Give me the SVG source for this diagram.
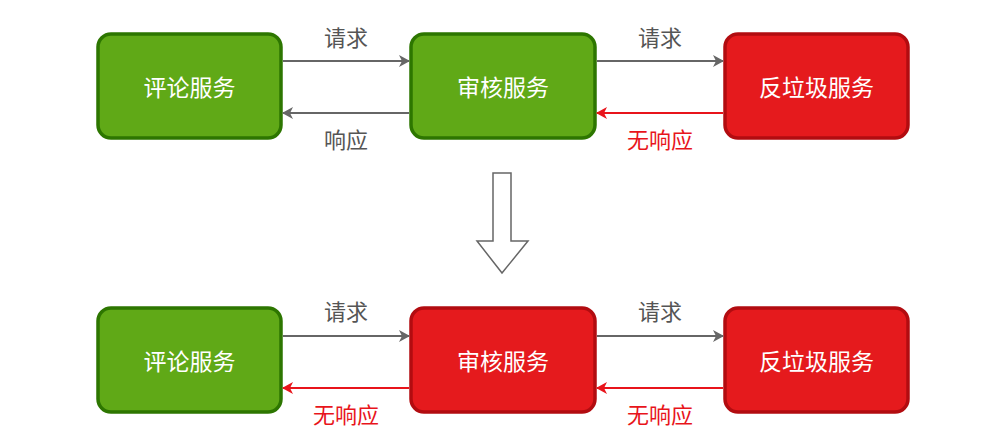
<svg xmlns="http://www.w3.org/2000/svg" width="983" height="441" viewBox="0 0 983 441">
<style>
.g{fill:#60a917;stroke:#2d7600;stroke-width:3.5}
.r{fill:#e51a1d;stroke:#b20c10;stroke-width:3.5}
.t{font-family:"Noto Sans CJK SC",sans-serif;font-size:23px;fill:#fff;text-anchor:middle;dominant-baseline:central}
.l{font-family:"Noto Sans CJK SC",sans-serif;font-size:22px;fill:#555;text-anchor:middle;dominant-baseline:central}
.lr{fill:#e8141b}
.c{stroke:#666;stroke-width:2;fill:none}
.cr{stroke:#e8141b;stroke-width:2;fill:none}
</style>
<defs>
<marker id="ag" markerWidth="12" markerHeight="12" refX="10" refY="6" orient="auto" markerUnits="userSpaceOnUse"><path d="M0,0 L11,6 L0,12 L3,6 Z" fill="#666"/></marker>
<marker id="ar" markerWidth="12" markerHeight="12" refX="10" refY="6" orient="auto" markerUnits="userSpaceOnUse"><path d="M0,0 L11,6 L0,12 L3,6 Z" fill="#e8141b"/></marker>
</defs>
<rect width="983" height="441" fill="#fff"/>
<g id="n1"><rect class="g" x="98" y="34" width="183" height="104" rx="13"/><text class="t" x="189.5" y="86">评论服务</text></g>
<g id="n2"><rect class="g" x="411" y="34" width="184" height="104" rx="13"/><text class="t" x="503" y="86">审核服务</text></g>
<g id="n3"><rect class="r" x="725" y="34" width="183" height="104" rx="13"/><text class="t" x="816.5" y="86">反垃圾服务</text></g>
<g id="n4"><rect class="g" x="98" y="308" width="183" height="104" rx="13"/><text class="t" x="189.5" y="360">评论服务</text></g>
<g id="n5"><rect class="r" x="411" y="308" width="184" height="104" rx="13"/><text class="t" x="503" y="360">审核服务</text></g>
<g id="n6"><rect class="r" x="725" y="308" width="183" height="104" rx="13"/><text class="t" x="816.5" y="360">反垃圾服务</text></g>
<g id="bigarrow"><path d="M493,173 L511,173 L511,241 L528,241 L502,273 L477,241 L493,241 Z" fill="#fff" stroke="#666" stroke-width="1.5"/></g>
<g id="connectors">
<path class="c" d="M283,61 L409,61" marker-end="url(#ag)"/>
<path class="c" d="M409,113 L283,113" marker-end="url(#ag)"/>
<path class="c" d="M597,61 L723,61" marker-end="url(#ag)"/>
<path class="cr" d="M723,113 L597,113" marker-end="url(#ar)"/>
<path class="c" d="M283,336 L409,336" marker-end="url(#ag)"/>
<path class="cr" d="M409,388 L283,388" marker-end="url(#ar)"/>
<path class="c" d="M597,336 L723,336" marker-end="url(#ag)"/>
<path class="cr" d="M723,388 L597,388" marker-end="url(#ar)"/>
</g>
<g id="labels">
<text class="l" x="346" y="36">请求</text>
<text class="l" x="346" y="138">响应</text>
<text class="l" x="660" y="36">请求</text>
<text class="l lr" x="660" y="138">无响应</text>
<text class="l" x="346" y="310">请求</text>
<text class="l lr" x="346" y="413">无响应</text>
<text class="l" x="660" y="310">请求</text>
<text class="l lr" x="660" y="413">无响应</text>
</g>
</svg>
